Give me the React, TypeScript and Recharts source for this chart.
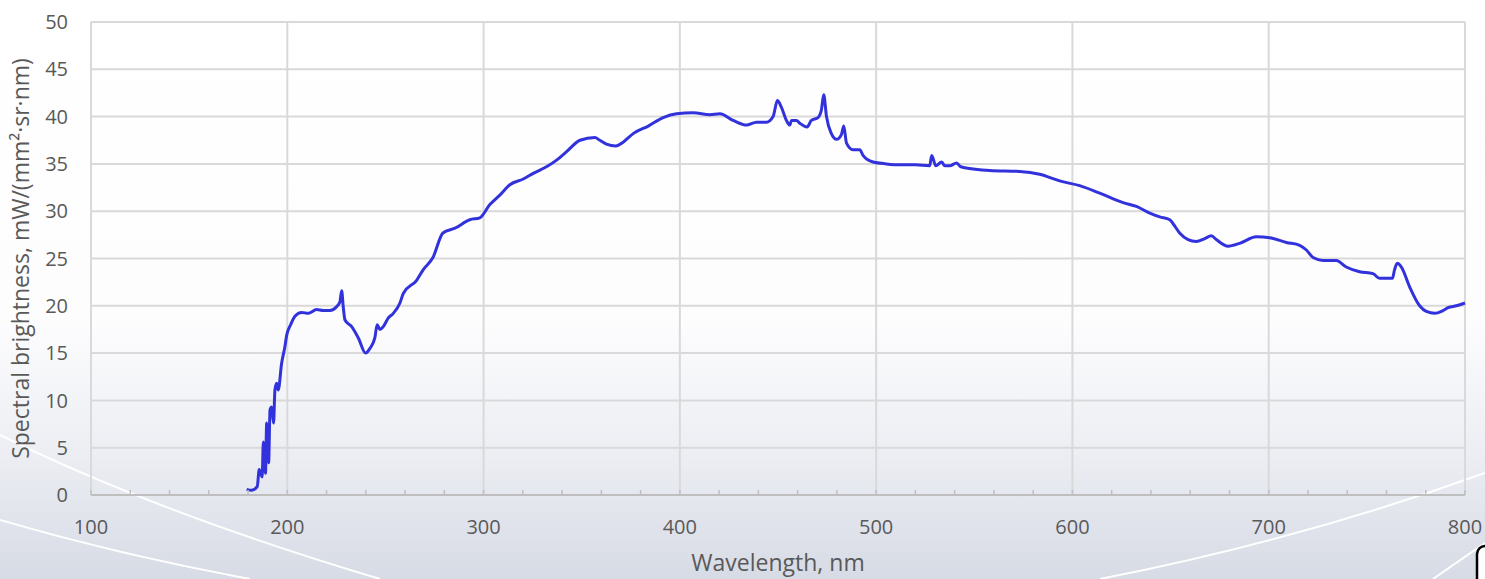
import React from "react";
import {
  LineChart,
  Line,
  XAxis,
  YAxis,
  CartesianGrid,
} from "recharts";

// wavelength (nm) and spectral brightness
const WAVELENGTH = [
  179.3, 181.8, 184.7, 185.7, 187.2, 187.8, 188.9, 189.5, 190.5, 191.2,
  192.0, 193.0, 193.7, 194.6, 195.4, 197.1, 198.8, 199.7, 201.7, 203.9,
  207.3, 210.7, 214.9, 218.3, 221.7, 225.1, 226.8, 227.7, 228.5, 229.4,
  232.8, 236.2, 239.9, 242.1, 244.6, 245.8, 247.2, 248.9, 251.4, 254.0,
  257.4, 259.1, 265.9, 269.2, 274.2, 279.3, 285.4, 293.0, 298.1, 303.2,
  308.3, 313.4, 320.2, 325.3, 332.9, 337.2, 342.3, 349.1, 356.7, 359.2,
  362.6, 367.4, 371.1, 376.2, 383.9, 391.5, 398.3, 406.8, 415.3, 420.4,
  427.1, 433.9, 439.0, 444.1, 447.5, 449.7, 451.7, 454.3, 456.0, 456.9,
  459.4, 461.1, 464.8, 467.0, 470.4, 472.1, 473.3, 474.7, 477.2, 479.8,
  482.3, 483.5, 484.9, 488.2, 491.7, 493.3, 498.4, 505.2, 512.0, 520.0,
  527.3, 528.3, 530.4, 533.4, 535.0, 537.5, 541.0, 543.0, 545.1, 557.9,
  573.2, 583.3, 593.5, 603.7, 613.9, 625.8, 632.6, 639.4, 644.5, 649.6,
  651.2, 654.6, 658.9, 663.1, 667.4, 670.8, 673.3, 679.3, 685.2, 693.7,
  700.5, 709.0, 715.8, 719.2, 722.6, 727.6, 734.4, 739.5, 746.3, 753.1,
  756.5, 759.9, 763.0, 764.1, 765.5, 767.6, 771.8, 776.9, 780.3, 784.6,
  788.8, 791.4, 795.6, 800.0,
];

const BRIGHTNESS = [
  0.6, 0.5, 0.9, 2.7, 1.9, 5.6, 2.3, 7.6, 3.4, 9.0,
  9.3, 7.6, 11.1, 11.8, 11.1, 13.9, 15.7, 16.9, 18.0, 18.9,
  19.3, 19.2, 19.6, 19.5, 19.5, 19.9, 20.4, 21.6, 19.9, 18.5,
  17.8, 16.6, 15.0, 15.5, 16.6, 18.0, 17.5, 17.8, 18.7, 19.2,
  20.3, 21.3, 22.7, 23.8, 25.1, 27.7, 28.2, 29.1, 29.3, 30.7,
  31.7, 32.8, 33.4, 34.0, 34.8, 35.4, 36.3, 37.5, 37.8, 37.5,
  37.1, 36.9, 37.3, 38.2, 39.0, 39.9, 40.3, 40.4, 40.2, 40.3,
  39.6, 39.1, 39.4, 39.4, 40.0, 41.7, 41.0, 39.6, 39.1, 39.6,
  39.6, 39.3, 38.9, 39.6, 39.9, 40.7, 42.3, 40.0, 38.2, 37.6,
  38.1, 39.0, 37.2, 36.5, 36.5, 35.9, 35.2, 35.0, 34.9, 34.9,
  34.8, 35.9, 34.8, 35.2, 34.8, 34.8, 35.1, 34.7, 34.6, 34.3,
  34.2, 33.9, 33.2, 32.7, 31.9, 30.9, 30.5, 29.8, 29.4, 29.1,
  28.7, 27.7, 27.0, 26.8, 27.1, 27.4, 27.0, 26.3, 26.6, 27.3,
  27.2, 26.7, 26.4, 25.9, 25.1, 24.8, 24.8, 24.1, 23.6, 23.4,
  22.9, 22.9, 22.9, 23.8, 24.5, 24.1, 22.0, 20.0, 19.4, 19.2,
  19.5, 19.8, 20.0, 20.3,
];

const X_MAJOR = [100, 200, 300, 400, 500, 600, 700, 800];
const X_MINOR = [
  100, 120, 140, 160, 180, 200, 220, 240, 260, 280, 300, 320, 340, 360, 380,
  400, 420, 440, 460, 480, 500, 520, 540, 560, 580, 600, 620, 640, 660, 680,
  700, 720, 740, 760, 780, 800,
];
const Y_TICKS = [0, 5, 10, 15, 20, 25, 30, 35, 40, 45, 50];

const FONT = '"Open Sans", sans-serif';
const LABEL_COLOR = "#595959";
const X_TICK_MARGIN = 25;

function XTick(props: any) {
  const { x, y, payload } = props;
  const v = payload.value as number;
  const axisY = y - X_TICK_MARGIN;
  return (
    <g>
      <line x1={x} x2={x} y1={axisY} y2={axisY - 5} stroke="#bfbfbf" strokeWidth={1.5} />
      {v % 100 === 0 && (
        <text x={x} y={y} dy="0.71em" textAnchor="middle" fill={LABEL_COLOR} fontSize={20} fontFamily={FONT}>
          {v}
        </text>
      )}
    </g>
  );
}

export default function App() {
  const data = WAVELENGTH.map((w, i) => ({ w, b: BRIGHTNESS[i] }));

  return (
    <div
      style={{
        position: "absolute",
        left: 0,
        top: 0,
        width: 1485,
        height: 579,
        overflow: "hidden",
        background:
          "linear-gradient(to bottom, #ffffff 0%, #fdfdfe 55%, #eceef3 78%, #d7dbe5 100%)",
      }}
    >
      <svg width={1485} height={579} style={{ position: "absolute", left: 0, top: 0 }}>
        <path d="M0,435 Q150,510 380,579" stroke="#ffffff" strokeWidth={2} fill="none" />
        <path d="M0,520 Q120,555 250,579" stroke="#ffffff" strokeWidth={2} fill="none" />
        <path d="M1100,579 Q1300,540 1485,473" stroke="#ffffff" strokeWidth={2} fill="none" />
        <path d="M1433,579 Q1460,560 1485,543" stroke="#ffffff" strokeWidth={2} fill="none" />
        <rect x={1477} y={546} width={30} height={60} rx={8} fill="#ffffff" stroke="#000000" strokeWidth={2.5} />
      </svg>
      <div style={{ position: "absolute", left: 0, top: 0 }}>
        <LineChart width={1485} height={579} data={data} margin={{ top: 22, right: 20, bottom: 0, left: 21 }}>
          <CartesianGrid xAxisId="grid" stroke="#d9d9d9" strokeWidth={2} />
          <XAxis
            xAxisId="grid"
            type="number"
            dataKey="w"
            domain={[100, 800]}
            ticks={X_MAJOR}
            hide
          />
          <XAxis
            type="number"
            dataKey="w"
            domain={[100, 800]}
            ticks={X_MINOR}
            interval={0}
            height={84}
            tickSize={0}
            tickMargin={X_TICK_MARGIN}
            tickLine={false}
            axisLine={{ stroke: "#bfbfbf", strokeWidth: 2 }}
            tick={<XTick />}
            label={{
              value: "Wavelength, nm",
              position: "insideBottom",
              offset: 8,
              fill: LABEL_COLOR,
              fontSize: 23,
              fontFamily: FONT,
            }}
          />
          <YAxis
            type="number"
            domain={[0, 50]}
            ticks={Y_TICKS}
            interval={0}
            width={70}
            tickSize={0}
            tickMargin={23}
            axisLine={false}
            tickLine={false}
            tick={{ fill: LABEL_COLOR, fontSize: 20, fontFamily: FONT }}
            label={{
              value: "Spectral brightness, mW/(mm²·sr·nm)",
              angle: -90,
              position: "insideLeft",
              offset: 0,
              fill: LABEL_COLOR,
              fontSize: 23,
              fontFamily: FONT,
              style: { textAnchor: "middle" },
            }}
          />
          <Line
            type="monotone"
            dataKey="b"
            stroke="#3232dc"
            strokeWidth={3}
            dot={false}
            isAnimationActive={false}
          />
        </LineChart>
      </div>
    </div>
  );
}
